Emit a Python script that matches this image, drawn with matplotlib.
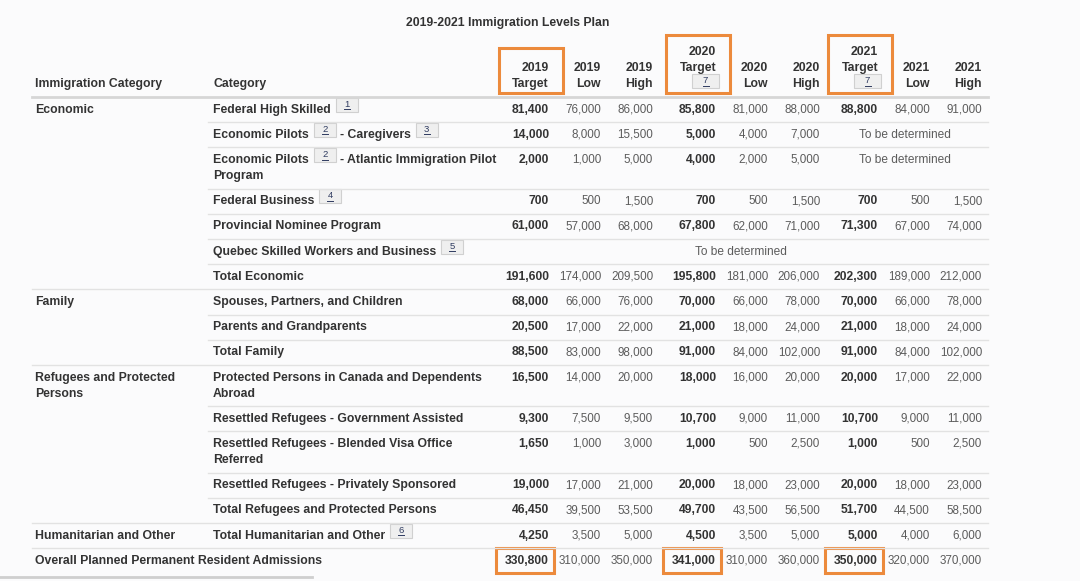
import matplotlib.pyplot as plt
from matplotlib.patches import Rectangle

plt.rcParams['font.family'] = ['Liberation Sans', 'DejaVu Sans']

# ---- table data ----
title = "2019-2021 Immigration Levels Plan"
years = ["2019", "2020", "2021"]
kinds = ["Target", "Low", "High"]
header_notes = {"2020": 7, "2021": 7}

groups = ["Economic", "Family", "Refugees and Protected\nPersons",
          "Humanitarian and Other", "Overall Planned Permanent Resident Admissions"]
group_sizes = [7, 3, 5, 1, 1]

# category text; ints are footnote markers placed inline
categories = [
    ["Federal High Skilled", 1],
    ["Economic Pilots", 2, "- Caregivers", 3],
    ["Economic Pilots", 2, "- Atlantic Immigration Pilot\nProgram"],
    ["Federal Business", 4],
    ["Provincial Nominee Program"],
    ["Quebec Skilled Workers and Business", 5],
    ["Total Economic"],
    ["Spouses, Partners, and Children"],
    ["Parents and Grandparents"],
    ["Total Family"],
    ["Protected Persons in Canada and Dependents\nAbroad"],
    ["Resettled Refugees - Government Assisted"],
    ["Resettled Refugees - Blended Visa Office\nReferred"],
    ["Resettled Refugees - Privately Sponsored"],
    ["Total Refugees and Protected Persons"],
    ["Total Humanitarian and Other", 6],
    [],
]

target_2019 = [81400, 14000, 2000, 700, 61000, None, 191600, 68000, 20500, 88500,
               16500, 9300, 1650, 19000, 46450, 4250, 330800]
low_2019 = [76000, 8000, 1000, 500, 57000, None, 174000, 66000, 17000, 83000,
            14000, 7500, 1000, 17000, 39500, 3500, 310000]
high_2019 = [86000, 15500, 5000, 1500, 68000, None, 209500, 76000, 22000, 98000,
             20000, 9500, 3000, 21000, 53500, 5000, 350000]
target_2020 = [85800, 5000, 4000, 700, 67800, None, 195800, 70000, 21000, 91000,
               18000, 10700, 1000, 20000, 49700, 4500, 341000]
low_2020 = [81000, 4000, 2000, 500, 62000, None, 181000, 66000, 18000, 84000,
            16000, 9000, 500, 18000, 43500, 3500, 310000]
high_2020 = [88000, 7000, 5000, 1500, 71000, None, 206000, 78000, 24000, 102000,
             20000, 11000, 2500, 23000, 56500, 5000, 360000]
target_2021 = [88800, None, None, 700, 71300, None, 202300, 70000, 21000, 91000,
               20000, 10700, 1000, 20000, 51700, 5000, 350000]
low_2021 = [84000, None, None, 500, 67000, None, 189000, 66000, 18000, 84000,
            17000, 9000, 500, 18000, 44500, 4000, 320000]
high_2021 = [91000, None, None, 1500, 74000, None, 212000, 78000, 24000, 102000,
             22000, 11000, 2500, 23000, 58500, 6000, 370000]

columns = [target_2019, low_2019, high_2019,
           target_2020, low_2020, high_2020,
           target_2021, low_2021, high_2021]
tbd_text = "To be determined"

# ---- layout ----
col_right = [549, 601, 653, 716, 768, 820, 878, 930, 982]
x_group, x_cat = 35, 213
header_line_y = 97
row_h, line_h = 25.2, 16
line_left_group, line_left_cat, line_right = 32, 208, 988
fs_label = 8.85
fs_bold_num = 8.7
fs_num = 8.4
fs_tbd = 8.6
dark, mid = '#333333', '#5c5c5c'
orange = '#ec8a3c'

fig = plt.figure(figsize=(10.8, 5.81), dpi=100)
fig.patch.set_facecolor('#fbfbfc')
ax = fig.add_axes([0, 0, 1, 1])
ax.set_xlim(0, 1080)
ax.set_ylim(581, 0)
ax.axis('off')
renderer = fig.canvas.get_renderer()


def footnote(x, y, n, w=22):
    # little grey box with an underlined number, raised above the text line
    ax.add_patch(Rectangle((x, y - 12), w, 14, fc='#efefef', ec='#d0d0d0', lw=0.8))
    ax.text(x + w / 2, y - 5.5, str(n), fontsize=6.8, color='#2f3b60',
            ha='center', va='center')
    ax.plot([x + w / 2 - 3, x + w / 2 + 3], [y - 0.5, y - 0.5], color='#2f3b60', lw=0.7)


def multiline(x, y, s, **kw):
    for k, part in enumerate(s.split("\n")):
        ax.text(x, y + k * line_h, part, va='center', **kw)


# title
ax.text(508, 23, title, fontsize=fs_label, fontweight='bold', color=dark,
        ha='center', va='center')

# header
ax.text(x_group, 84, "Immigration Category", fontsize=fs_label, fontweight='bold',
        color=dark, va='center')
ax.text(x_cat, 84, "Category", fontsize=fs_label, fontweight='bold',
        color=dark, va='center')
for i, (yr, kind) in enumerate([(y, k) for y in years for k in kinds]):
    xr = col_right[i]
    if kind == "Target" and yr in header_notes:
        ax.text(xr, 52, yr, fontsize=fs_label, fontweight='bold', color=dark, ha='right', va='center')
        ax.text(xr, 68, kind, fontsize=fs_label, fontweight='bold', color=dark, ha='right', va='center')
        footnote(xr - 24, 86, header_notes[yr], w=27)
    else:
        ax.text(xr, 68, yr, fontsize=fs_label, fontweight='bold', color=dark, ha='right', va='center')
        ax.text(xr, 84, kind, fontsize=fs_label, fontweight='bold', color=dark, ha='right', va='center')
    if kind == "Target":
        top = 48 if yr not in header_notes else 35
        ax.add_patch(Rectangle((xr - 50, top), 64, 93 - top, fc='none', ec=orange, lw=2.2))

ax.plot([line_left_group, line_right], [header_line_y, header_line_y], color='#d6d6d6', lw=2)

# body
n_rows = len(categories)
group_start = [sum(group_sizes[:g]) for g in range(len(groups))]
row_top = header_line_y
tops = []
for r in range(n_rows):
    tops.append(row_top)
    n_lines = 1
    if categories[r]:
        n_lines = 1 + sum(str(p).count("\n") for p in categories[r] if isinstance(p, str))
    g = max(k for k in range(len(groups)) if group_start[k] <= r)
    if r == group_start[g]:
        n_lines = max(n_lines, groups[g].count("\n") + 1)
    row_top += row_h + (n_lines - 1) * line_h

for r in range(n_rows):
    y = tops[r] + row_h / 2
    g = max(k for k in range(len(groups)) if group_start[k] <= r)
    if r == group_start[g]:
        multiline(x_group, y, groups[g], fontsize=fs_label, fontweight='bold', color=dark)

    # category label with inline footnotes
    x = x_cat
    line = 0
    for part in categories[r]:
        if isinstance(part, int):
            footnote(x + 5, y + line * line_h, part)
            x += 5 + 22 + 4
            continue
        pieces = part.split("\n")
        for k, piece in enumerate(pieces):
            if k > 0:
                line += 1
                x = x_cat
            t = ax.text(x, y + line * line_h, piece, fontsize=fs_label, fontweight='bold',
                        color=dark, va='center')
            x += t.get_window_extent(renderer).width

    # numbers
    vals = [c[r] for c in columns]
    if all(v is None for v in vals):
        xc = (col_right[0] - 50 + col_right[-1]) / 2
        ax.text(xc, y, tbd_text, fontsize=fs_tbd, color=mid, ha='center', va='center')
    for j in range(3):
        block = vals[3 * j:3 * j + 3]
        if all(v is None for v in block) and not all(v is None for v in vals):
            xc = (col_right[3 * j] - 50 + col_right[3 * j + 2]) / 2
            ax.text(xc, y, tbd_text, fontsize=fs_tbd, color=mid, ha='center', va='center')
    for i, v in enumerate(vals):
        if v is None:
            continue
        bold = (i % 3 == 0)
        ax.text(col_right[i], y, f"{v:,}", fontsize=fs_bold_num if bold else fs_num,
                fontweight='bold' if bold else 'normal', color=dark if bold else mid,
                ha='right', va='center')
        if bold and r == n_rows - 1:
            ax.add_patch(Rectangle((col_right[i] - 53, tops[r]), 58, row_h,
                                   fc='none', ec=orange, lw=2.2))

    # row separator
    if r < n_rows - 1:
        yb = tops[r + 1]
        last_in_group = (r + 1) in group_start
        x0 = line_left_group if last_in_group else line_left_cat
        ax.plot([x0, line_right], [yb, yb], color='#e2e2e2', lw=1)

# bottom scrollbar remnant
ax.plot([0, 312], [577, 577], color='#cfcfcf', lw=2)

fig.savefig("out.png", dpi=100, facecolor=fig.get_facecolor())
